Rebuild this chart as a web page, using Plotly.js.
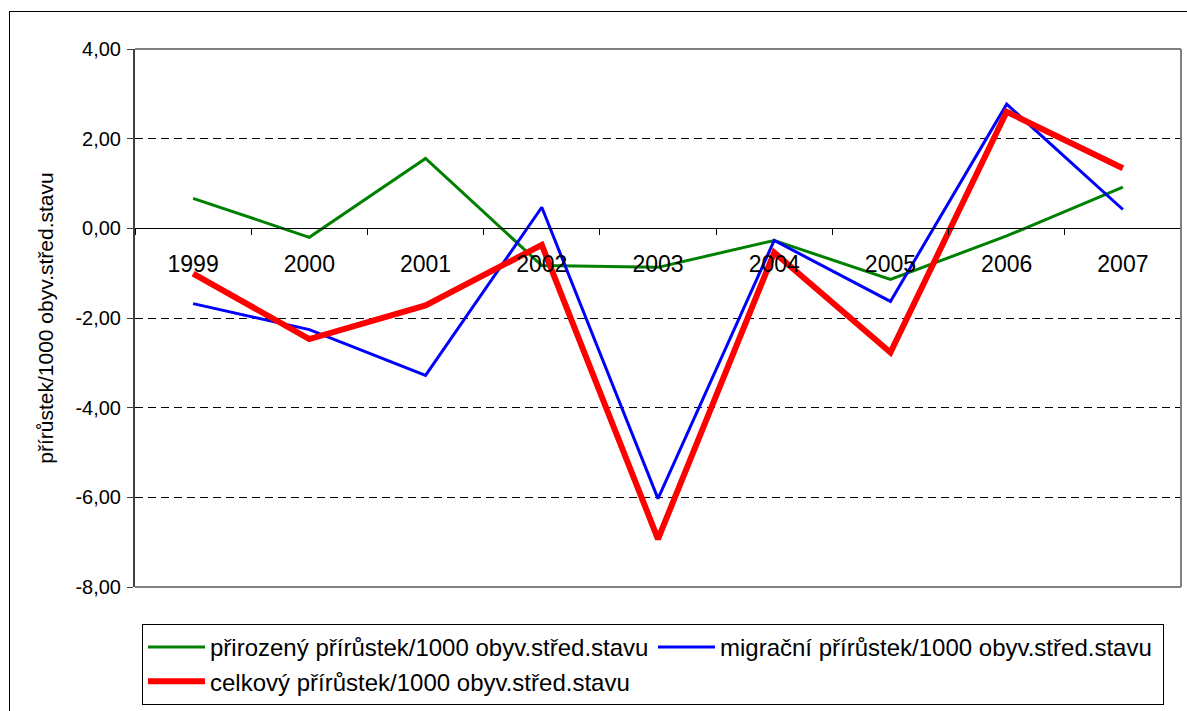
<!DOCTYPE html>
<html>
<head>
<meta charset="utf-8">
<script src="https://cdn.plot.ly/plotly-3.0.1.min.js"></script>
<style>
  html, body { margin: 0; padding: 0; background: #ffffff; overflow: hidden; width: 1187px; height: 711px; }
  #frame { position: absolute; left: 9px; top: 11px; width: 1300px; height: 800px; border: 1.5px solid #000; pointer-events: none; z-index: 5; }
  #chart { position: absolute; left: 0; top: 0; width: 1187px; height: 711px; }
</style>
</head>
<body>
<div id="chart"></div>
<div id="frame"></div>
<script>
const years = ['1999', '2000', '2001', '2002', '2003', '2004', '2005', '2006', '2007'];
const prirozeny = [0.67, -0.20, 1.56, -0.83, -0.87, -0.27, -1.14, -0.17, 0.92];
const migracni = [-1.68, -2.26, -3.28, 0.47, -6.03, -0.27, -1.63, 2.77, 0.42];
const celkovy = [-1.01, -2.47, -1.72, -0.37, -6.93, -0.54, -2.77, 2.60, 1.34];
const seriesNames = [
  'přirozený přírůstek/1000 obyv.střed.stavu',
  'migrační přírůstek/1000 obyv.střed.stavu',
  'celkový přírůstek/1000 obyv.střed.stavu'
];
const yTickVals = [-8, -6, -4, -2, 0, 2, 4];
const yTickText = ['-8,00', '-6,00', '-4,00', '-2,00', '0,00', '2,00', '4,00'];
const yTitle = 'přírůstek/1000 obyv.střed.stavu';

const FONT = 'Liberation Sans, Arial, sans-serif';

const traces = [
  { x: years, y: prirozeny, name: seriesNames[0], type: 'scatter', mode: 'lines',
    line: { color: '#008000', width: 3 } },
  { x: years, y: migracni, name: seriesNames[1], type: 'scatter', mode: 'lines',
    line: { color: '#0000FF', width: 3 } },
  { x: years, y: celkovy, name: seriesNames[2], type: 'scatter', mode: 'lines',
    line: { color: '#FF0000', width: 6 } }
];

const layout = {
  width: 1187, height: 711,
  margin: { l: 135, r: 6, t: 49, b: 124 },
  paper_bgcolor: 'rgba(0,0,0,0)',
  plot_bgcolor: '#ffffff',
  separators: ', ',
  font: { family: FONT, color: '#000' },
  showlegend: true,
  xaxis: {
    type: 'category',
    range: [-0.5, 8.5],
    anchor: 'free',
    position: 8 / 12,
    showline: true, linecolor: '#000', linewidth: 1,
    ticks: 'outside', tickson: 'boundaries', ticklen: 6, tickcolor: '#000', tickwidth: 1,
    ticklabelstandoff: 15,
    showgrid: false, zeroline: false,
    tickfont: { family: FONT, size: 23, color: '#000' },
    fixedrange: true
  },
  yaxis: {
    range: [-8, 4],
    tickvals: yTickVals, ticktext: yTickText,
    showline: true, linecolor: '#404040', linewidth: 2,
    ticks: 'outside', ticklen: 6, tickcolor: '#404040', tickwidth: 1,
    ticklabelstandoff: 2,
    showgrid: true, gridcolor: '#000', gridwidth: 1, griddash: '8px,5px',
    zeroline: false,
    tickfont: { family: FONT, size: 20, color: '#000' },
    title: { text: yTitle, font: { family: FONT, size: 21, color: '#000' }, standoff: 16 },
    fixedrange: true
  },
  shapes: [
    { type: 'line', xref: 'paper', yref: 'paper', x0: 0, x1: 1, y0: 1, y1: 1, line: { color: '#808080', width: 2 }, layer: 'above' },
    { type: 'line', xref: 'paper', yref: 'paper', x0: 1, x1: 1, y0: 0, y1: 1, line: { color: '#808080', width: 2 }, layer: 'above' },
    { type: 'line', xref: 'paper', yref: 'paper', x0: 0, x1: 1, y0: 0, y1: 0, line: { color: '#808080', width: 2 }, layer: 'above' }
  ],
  legend: {
    orientation: 'h',
    x: 7 / 1046, xanchor: 'left',
    y: -37 / 538, yanchor: 'top',
    bordercolor: '#000', borderwidth: 1,
    bgcolor: '#ffffff',
    font: { family: FONT, size: 24, color: '#000' },
    entrywidth: 438, entrywidthmode: 'pixels',
    traceorder: 'normal',
    itemwidth: 57
  }
};

Plotly.newPlot('chart', traces, layout, { displayModeBar: false, staticPlot: true });
</script>
</body>
</html>
